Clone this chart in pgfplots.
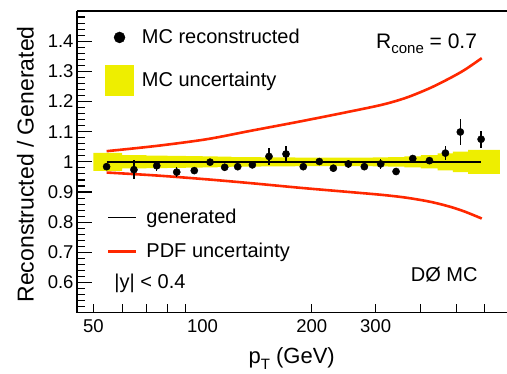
\documentclass[border=0pt]{standalone}
\usepackage{fontspec}
\setmainfont{Liberation Sans}
\usepackage{pgfplots}
\pgfplotsset{compat=1.18}
\definecolor{bandy}{RGB}{238,238,0}
\definecolor{pdfred}{RGB}{255,40,0}
\newcommand{\legfont}{\fontsize{20}{20}\selectfont}

\begin{document}
\begin{tikzpicture}
\useasboundingbox (-77pt,-60.3pt) rectangle (430pt,312.7pt);
\begin{axis}[
  at={(0pt,0pt)}, anchor=south west,
  width=430pt, height=301.7pt, scale only axis,
  xmode=log, xmin=45.08, xmax=690.8, ymin=0.5, ymax=1.5,
  axis x line*=box, axis y line*=left,
  xtick={50,60.01,70,80,90,200,300,400,500,600},
  xticklabels={50,,,,,200,300,,,},
  extra x ticks={100}, extra x tick labels={100},
  extra x tick style={major tick length=0pt},
  ytick={0.5,0.52,...,1.51},
  yticklabels={},
  extra y ticks={0.6,0.7,0.8,0.9,1,1.1,1.2,1.3,1.4},
  extra y tick labels={0.6,0.7,0.8,0.9,1,1.1,1.2,1.3,1.4},
  extra y tick style={major tick length=15pt},
  xtick pos=left, ytick pos=left,
  major tick length=8.5pt,
  tick align=inside,
  axis line style={line width=1.1pt},
  every tick/.style={black, line width=1.1pt},
  tick label style={font=\fontsize{18.5}{18.5}\selectfont},
  xticklabel style={yshift=-3pt},
  /pgf/number format/assume math mode=true,
  xlabel={p\raisebox{-6pt}{\fontsize{15}{15}\selectfont T} (GeV)},
  xlabel style={at={(axis description cs:0.6,-0.167)}, anchor=base east, font=\fontsize{22}{22}\selectfont, inner sep=0pt},
  ylabel={Reconstructed / Generated},
  ylabel style={at={(axis description cs:-0.1198,0.95)}, anchor=east, rotate=0, font=\fontsize{23}{23}\selectfont, inner sep=0pt},
  legend style={at={(axis description cs:0.0651,0.9634)}, anchor=north west, draw=none, fill=none,
     font=\legfont, inner sep=0pt, row sep=12pt, nodes={inner sep=0pt},
     /tikz/every odd column/.append style={column sep=8pt}},
  legend cell align=left,
]
% MC uncertainty band
\addplot[fill=bandy, draw=none, forget plot] coordinates {
 (50,1.030)(60,1.030)(60,1.022)(70,1.022)(70,1.021)(80,1.021)(80,1.020)(90,1.020)
 (90,1.019)(100,1.019)(100,1.018)(110,1.018)(110,1.017)(120,1.017)(120,1.016)(130,1.016)
 (130,1.016)(145,1.016)(145,1.015)(160,1.015)(160,1.015)(180,1.015)(180,1.014)(200,1.014)
 (200,1.014)(220,1.014)(220,1.014)(240,1.014)(240,1.014)(265,1.014)(265,1.014)(295,1.014)
 (295,1.015)(325,1.015)(325,1.016)(360,1.016)(360,1.018)(400,1.018)(400,1.022)(445,1.022)
 (445,1.028)(490,1.028)(490,1.034)(540,1.034)(540,1.040)(660,1.040)
 (660,0.960)(540,0.960)(540,0.966)(490,0.966)(490,0.972)(445,0.972)(445,0.978)(400,0.978)
 (400,0.982)(360,0.982)(360,0.984)(325,0.984)(325,0.985)(295,0.985)(295,0.986)(265,0.986)
 (265,0.986)(240,0.986)(240,0.986)(220,0.986)(220,0.986)(200,0.986)(200,0.986)(180,0.986)
 (180,0.985)(160,0.985)(160,0.985)(145,0.985)(145,0.984)(130,0.984)(130,0.984)(120,0.984)
 (120,0.983)(110,0.983)(110,0.982)(100,0.982)(100,0.981)(90,0.981)(90,0.980)(80,0.980)
 (80,0.979)(70,0.979)(70,0.978)(60,0.978)(60,0.970)(50,0.970)
} -- cycle;
% PDF uncertainty
\addplot[pdfred, line width=2.6pt, smooth, forget plot] coordinates {
 (54.4,1.0354)(74.8,1.0529)(102.7,1.0750)(135.2,1.1025)(185.8,1.1339)(255.1,1.1669)(314.6,1.1901)(365.6,1.2132)(423.8,1.2446)(481.3,1.2777)(529.3,1.3058)(588.6,1.3438)};
\addplot[pdfred, line width=2.6pt, smooth, forget plot] coordinates {
 (54.4,0.9646)(74.8,0.9547)(102.7,0.9421)(135.2,0.9296)(185.8,0.9140)(255.1,0.8998)(314.6,0.8902)(365.6,0.8810)(423.8,0.8678)(481.3,0.8512)(529.3,0.8347)(588.6,0.8121)};
% generated
\addplot[black, line width=1.4pt, forget plot] coordinates {(54.4,1)(586.1,1)};
% MC reconstructed
\addplot[only marks, mark=*, mark size=3.6pt, black, forget plot,
  error bars/.cd, y dir=both, y explicit, error mark=none,
  error bar style={line width=1.3pt}]
 table[x=x, y=y, y error=e] {
 x y e
 54.4 0.984 0.010
 64.7 0.974 0.031
 74.8 0.987 0.017
 84.9 0.966 0.017
 94.9 0.971 0.010
 104.9 0.999 0.010
 115.1 0.982 0.012
 125.0 0.984 0.012
 137.2 0.990 0.012
 152.5 1.018 0.028
 169.9 1.026 0.028
 189.6 0.984 0.012
 209.9 1.001 0.012
 229.4 0.979 0.012
 252.3 0.993 0.012
 279.3 0.984 0.012
 309.9 0.993 0.017
 341.6 0.968 0.012
 379.8 1.011 0.012
 422.2 1.004 0.012
 467.2 1.029 0.022
 513.6 1.099 0.042
 586.1 1.075 0.028
 };
\addlegendimage{legend image code/.code={\path[draw=none,fill=none] (0pt,-15.2pt) rectangle (28.3pt,15.2pt); \fill[black] (14.15pt,0pt) circle (5.5pt);}}
\addlegendentry{MC reconstructed}
\addlegendimage{legend image code/.code={\path[draw=none,fill=none] (0pt,-15.2pt) rectangle (28.3pt,15.2pt); \fill[bandy] (0pt,-15.2pt) rectangle (28.3pt,15.2pt);}}
\addlegendentry{MC uncertainty}
\node[anchor=base west, font=\fontsize{21}{21}\selectfont, inner sep=0pt] at (axis description cs:0.6953,0.8764) {R\raisebox{-5pt}{\fontsize{15}{15}\selectfont cone} = 0.7};
\node[anchor=base west, font=\legfont, inner sep=0pt] at (axis description cs:0.0867,0.0809) {|y| < 0.4};
\node[anchor=base west, font=\legfont, inner sep=0pt] at (axis description cs:0.776,0.1028) {DØ MC};
\end{axis}
\begin{axis}[
  at={(0pt,0pt)}, anchor=south west,
  width=430pt, height=301.7pt, scale only axis, hide axis,
  xmin=0, xmax=1, ymin=0, ymax=1,
  legend style={at={(axis description cs:0.0690,0.3500)}, anchor=north west, draw=none, fill=none,
     font=\legfont, inner sep=0pt, row sep=14pt, nodes={inner sep=0pt},
     /tikz/every odd column/.append style={column sep=8.7pt}},
  legend cell align=left,
]
\addlegendimage{legend image code/.code={\path[draw=none,fill=none] (0pt,-10pt) rectangle (28.3pt,10pt); \draw[black, line width=1.4pt] (0pt,0pt) -- (28.3pt,0pt);}}
\addlegendentry{generated}
\addlegendimage{legend image code/.code={\path[draw=none,fill=none] (0pt,-10pt) rectangle (28.3pt,10pt); \draw[pdfred, line width=2.6pt] (0pt,0pt) -- (28.3pt,0pt);}}
\addlegendentry{PDF uncertainty}
\end{axis}
\end{tikzpicture}
\end{document}
